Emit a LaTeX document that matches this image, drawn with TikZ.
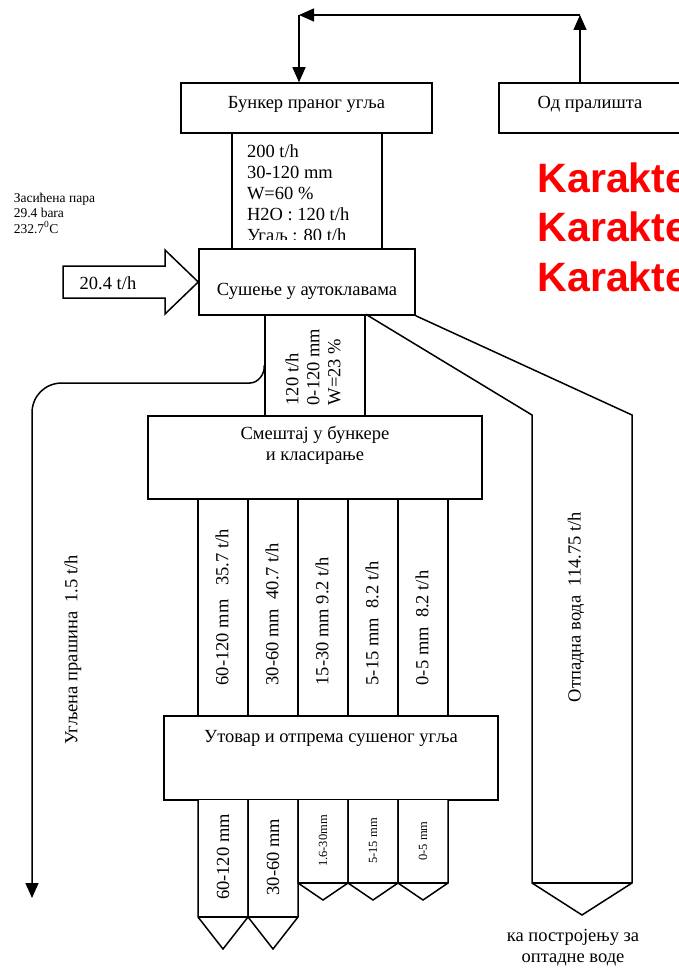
\documentclass[tikz,border=0pt]{standalone}
\usepackage{fontspec}
\setmainfont{Liberation Serif}
\newfontfamily\arialfont{Liberation Sans}
\usetikzlibrary{positioning, arrows.meta}

\begin{document}
\begin{tikzpicture}[x=1pt, y=-1pt, line width=1.5pt,
    box/.style = {draw, fill=white, inner sep=0pt},
    txt/.style = {font=\fontsize{18.5}{21}\selectfont, inner sep=0pt},
    small/.style = {font=\fontsize{13.5}{15.5}\selectfont, inner sep=0pt, align=left},
    tiny/.style = {font=\fontsize{12.5}{14}\selectfont, inner sep=0pt, rotate=90},
    flow/.style = {-{Triangle[length=15pt, width=13pt]}},
    vert/.style = {txt, rotate=90}]

  \useasboundingbox (0,0) rectangle (679,968);
  \clip (0,0) rectangle (679,968);

  % top: washed coal bunker and feed from the washery
  \node[box, minimum width=251pt, minimum height=50pt] (bunker) at (306.5,108) {};
  \node[txt, below=13pt of bunker.north] (bunkertxt) {Бункер праног угља};
  \node[box, minimum width=182pt, minimum height=50pt] (pral) at (590,108) {};
  \node[txt, below=13pt of pral.north] (praltxt) {Од пралишта};

  \coordinate (loopR) at (580,15);
  \coordinate (loopL) at (299,15);
  \draw[flow] (loopR |- pral.north) -- (loopR);
  \draw[flow] (loopR) -- (loopL);
  \draw[flow] (loopL) -- (loopL |- bunker.north);

  % feed data
  \node[box, minimum width=150pt, minimum height=116pt] (info) at (307,191) {};
  \begin{scope}
    \clip (info.north west) rectangle (info.east |- 0,240);
    \node[txt, align=left, below right=12pt and 15pt of info.north west] (infotxt)
      {200 t/h\\30-120 mm\\W=60 \%\\H2O : 120 t/h\\Угаљ : 80 t/h};
  \end{scope}

  % autoclave drying
  \node[box, minimum width=216pt, minimum height=66pt] (dry) at (307,282) {};
  \node[txt, below=34pt of dry.north] (drytxt) {Сушење у аутоклавама};

  % steam in
  \draw[fill=white] (63,266) -- (165,266) -- (165,250) -- (dry.west) -- (165,314)
    -- (165,298) -- (63,298) -- cycle;
  \node[txt] (steam) at (108,283) {20.4 t/h};
  \node[small, anchor=north west] (steaminfo) at (13,192)
    {Засићена пара\\29.4 bara\\232.7\textsuperscript{0}C};

  \node[anchor=north west, inner sep=0pt, align=left, text=red,
        font=\arialfont\bfseries\fontsize{41}{49.5}\selectfont] (title) at (537,162)
    {Karakte\\Karakte\\Karakte};

  % dried coal
  \node[box, minimum width=100pt, minimum height=101pt] (prod) at (315,365.5) {};
  \node[vert, align=left, anchor=west] (prodtxt) at (313,406) {120 t/h\\0-120 mm\\W=23 \%};

  % waste water
  \draw (prod.north east) -- (532,415) -- (532,883) -- (582,915) -- (632,883)
    -- (632,415) -- (dry.south east);
  \draw (532,883) -- (632,883);
  \node[vert] (waste) at (576,607) {Отпадна вода~~114.75 t/h};
  \node[txt, align=center] (wastetxt) at (573,948) {ка постројењу за\\оптадне воде};

  % coal dust
  \coordinate (dustend) at (32,898);
  \draw[flow] (prod.west) .. controls (265,374) and (258,383) .. (250,383) -- (62,383)
    .. controls (45,383) and (32,396) .. (32,413) -- (dustend);
  \node[vert] (dust) at (73,650) {Угљена прашина~~1.5 t/h};

  % bunkers and screening
  \node[box, minimum width=334pt, minimum height=83pt] (smestaj) at (315,457.5) {};
  \node[txt, align=center, below=10pt of smestaj.north] (smestajtxt)
    {Смештај у бункере\\и класирање};

  \foreach \x/\t in {198/{60-120 mm~~~35.7 t/h}, 248/{30-60 mm~~40.7 t/h},
                     298/{15-30 mm~9.2 t/h}, 348/{5-15 mm~~8.2 t/h}, 398/{0-5 mm~~8.2 t/h}}{
    \node[box, minimum width=50pt, minimum height=217pt] (fr\x) at (\x+25,607.5) {};
    \node[vert, anchor=west] (frtxt\x) at (\x+24,686) {\t};
  }

  % loading
  \node[box, minimum width=334pt, minimum height=84pt] (utovar) at (331,758) {};
  \node[txt, below=14pt of utovar.north] (utovartxt) {Утовар и отпрема сушеног угља};

  \foreach \x/\t in {198/60-120 mm, 248/30-60 mm}{
    \draw[fill=white] (\x,800) -- (\x,917) -- (\x+25,949) -- (\x+50,917) -- (\x+50,800);
    \draw (\x,917) -- (\x+50,917);
    \node[vert] (out\x) at (\x+25,857) {\t};
  }
  \foreach \x/\t in {298/1.6-30mm, 348/5-15 mm, 398/0-5 mm}{
    \draw[fill=white] (\x,800) -- (\x,883) -- (\x+25,900) -- (\x+50,883) -- (\x+50,800);
    \draw (\x,883) -- (\x+50,883);
    \node[tiny] (out\x) at (\x+25,841) {\t};
  }
\end{tikzpicture}
\end{document}
